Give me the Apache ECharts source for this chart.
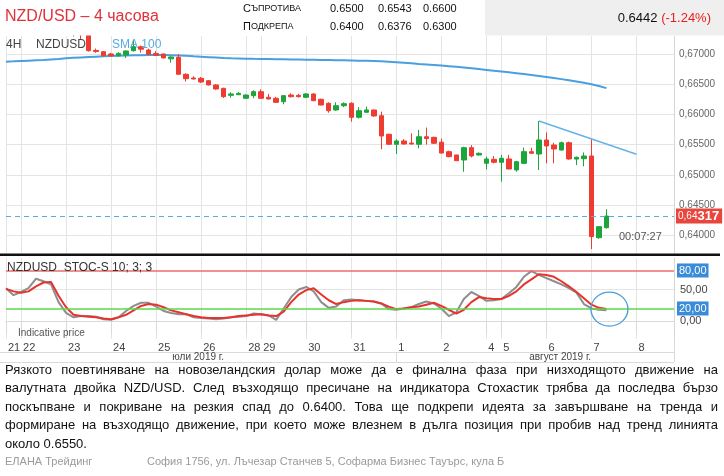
<!DOCTYPE html>
<html><head><meta charset="utf-8">
<script src="https://cdn.jsdelivr.net/npm/echarts@6/dist/echarts.min.js"></script>
<style>html,body{margin:0;padding:0;background:#fff}#c{width:724px;height:476px}</style>
</head><body><div id="c"></div>
<script>
// ---------- DATA ----------
const dayLabels = ['21','22','23','24','25','26','28','29','30','31','1','2','4','5','6','7','8'];
const barsPerDay = [2,6,6,6,6,6,2,6,6,6,6,6,2,6,6,6,6];
const monthLabels = ['юли 2019 г.', 'август 2019 г.'];
const monthFirstDay = [0, 10];

// candles: [open, close, low, high]
const candles = [
 [0.6748,0.6744,0.6741,0.6751],[0.6744,0.6740,0.6737,0.6747],[0.6740,0.6743,0.6738,0.6746],
 [0.6743,0.6750,0.6741,0.6753],[0.6750,0.6747,0.6744,0.6754],[0.6747,0.6745,0.6742,0.6750],
 [0.6745,0.6738,0.6735,0.6747],[0.6738,0.6735,0.6732,0.6740],[0.6735,0.6737,0.6733,0.6739],
 [0.6737,0.6733,0.6729,0.6739],[0.6735,0.6732,0.6724,0.6737],[0.6732,0.67055,0.6704,0.6735],
 [0.6706,0.6704,0.6702,0.6709],[0.67038,0.66972,0.6696,0.6705],[0.6700,0.6697,0.6696,0.6702],
 [0.6697,0.6701,0.6696,0.6703],[0.66983,0.6705,0.66934,0.6706],[0.67055,0.67121,0.6704,0.67232],
 [0.6712,0.6708,0.67022,0.6714],[0.67066,0.66995,0.6698,0.6709],[0.6701,0.6698,0.6697,0.6705],
 [0.6700,0.66934,0.6693,0.6701],[0.6692,0.6695,0.66855,0.6696],[0.66945,0.66664,0.6666,0.6700],
 [0.66664,0.66591,0.66545,0.6668],[0.66603,0.66586,0.6658,0.6663],[0.66598,0.66536,0.6652,0.6662],
 [0.66558,0.66487,0.6648,0.6657],[0.66487,0.6642,0.6641,0.6650],[0.66432,0.66293,0.66272,0.6644],
 [0.66316,0.66338,0.66277,0.66366],[0.66326,0.66349,0.6632,0.6637],[0.66267,0.66321,0.6626,0.6633],
 [0.6631,0.66376,0.6627,0.6640],[0.66376,0.66266,0.6626,0.66415],[0.66283,0.66255,0.6625,0.6634],
 [0.66267,0.662,0.6619,0.6629],[0.6621,0.6631,0.66167,0.6632],[0.66321,0.66293,0.6628,0.6635],
 [0.66315,0.66293,0.6628,0.6634],[0.66283,0.66338,0.6627,0.6635],[0.66338,0.66227,0.6622,0.6635],
 [0.6625,0.66155,0.6615,0.6626],[0.66184,0.66061,0.66028,0.6620],[0.66073,0.66144,0.6606,0.6620],
 [0.66144,0.66177,0.6612,0.6620],[0.66184,0.65952,0.6588,0.6620],[0.65952,0.66061,0.6593,0.6612],
 [0.66035,0.66073,0.6603,0.6613],[0.66073,0.65974,0.6596,0.6608],[0.65978,0.65642,0.65422,0.66045],
 [0.65671,0.65505,0.6550,0.6568],[0.65505,0.6556,0.65344,0.6559],[0.6556,0.6551,0.6550,0.6559],
 [0.65525,0.6551,0.6550,0.65687],[0.65505,0.6563,0.65439,0.6574],[0.6563,0.6560,0.6550,0.65782],
 [0.6562,0.65522,0.6551,0.6563],[0.6554,0.6536,0.6535,0.6560],[0.65383,0.653,0.6529,0.6540],
 [0.65328,0.65233,0.6523,0.6533],[0.65245,0.65449,0.65051,0.65465],[0.65449,0.65311,0.65288,0.6549],
 [0.65328,0.65356,0.6532,0.6537],[0.65191,0.65262,0.6509,0.6530],[0.65256,0.65207,0.6519,0.6531],
 [0.65207,0.65273,0.64886,0.6533],[0.65262,0.65096,0.6509,0.6533],[0.6508,0.65217,0.6505,0.6523],
 [0.6519,0.65383,0.6518,0.6545],[0.65383,0.65356,0.6535,0.6545],[0.65344,0.65576,0.6508,0.65891],
 [0.65576,0.65477,0.6519,0.6570],[0.65493,0.65427,0.6519,0.6553],[0.6541,0.65531,0.6540,0.6555],
 [0.65531,0.65262,0.6525,0.6555],[0.6526,0.6529,0.6516,0.6530],[0.65267,0.65311,0.6514,0.6537],
 [0.65311,0.63976,0.63771,0.65588],[0.63959,0.64141,0.6394,0.6415],[0.64124,0.64317,0.6411,0.64429]
];

const sma100 = [
 0.66873,0.66878,0.66884,0.66890,0.66896,0.66902,0.66910,0.66918,0.66928,0.66936,
 0.66943,0.66950,0.66956,0.66962,0.66967,0.66971,0.66975,0.66978,0.66981,0.66983,
 0.66983,0.66982,0.66980,0.66976,0.66970,0.66962,0.66955,0.66948,0.66941,0.66934,
 0.66929,0.66926,0.66923,0.66920,0.66918,0.66916,0.66914,0.66912,0.66910,0.66908,
 0.66906,0.66904,0.66902,0.66900,0.66898,0.66896,0.66893,0.66890,0.66888,0.66884,
 0.66879,0.66872,0.66864,0.66855,0.66845,0.66835,0.66826,0.66817,0.66808,0.66799,
 0.66788,0.66776,0.66763,0.66750,0.66737,0.66724,0.66711,0.66697,0.66683,0.66668,
 0.66652,0.66636,0.66619,0.66602,0.66584,0.66565,0.66546,0.66523,0.66499,0.66470,0.66435
];

const stochK = [
 52,41,46,52,67,63,58,30,13,6, 8,8,7,3,2,6,16,24,29,29,
 23,16,13,11,11,6,5,4,3,4, 6,7,8,12,11,9,2,20,38,50,
 54,47,30,21,23,33,34,33,32,31, 28,19,18,20,22,27,31,28,20,8,
 14,35,46,40,32,33,35,44,54,70, 79,73,68,63,58,52,45,27,20,18,17
];
const stochD = [
 51,47,45,47,55,61,62,40,22,10, 8,7,6,4,3,6,10,17,24,27,
 26,22,17,14,11,8,6,5,5,5, 6,8,9,10,11,9,8,15,30,42,
 49,52,42,33,27,30,32,33,32,31, 28,23,19,20,22,23,26,29,24,18,
 12,18,30,38,36,35,35,40,47,58, 66,74,73,70,63,55,46,36,26,21,19
];

const trendLine = [[71, 0.65891], [84, 0.6534]];
const lastPrice = 0.64317;
const priceTicks = [0.640, 0.645, 0.650, 0.655, 0.660, 0.665, 0.670];
const stochTicks = [0, 50];
const stochLevels = [80, 20];

const resistance = ['0.6500', '0.6543', '0.6600'];
const support = ['0.6400', '0.6376', '0.6300'];
const quote = '0.6442';
const change = '(-1.24%)';

const paragraph = [
 'Рязкото поевтиняване на новозеландския долар може да е финална фаза при низходящото движение на',
 'валутната двойка NZD/USD. След възходящо пресичане на индикатора Стохастик  трябва да последва бързо',
 'поскъпване и покриване на резкия спад до 0.6400. Това ще подкрепи идеята за завършване на тренда и',
 'формиране на възходящо движение, при което може влезнем в дълга позиция при пробив над тренд линията',
 'около 0.6550.'
];

// ---------- BUILD ----------
const categories = [];
const dayStart = {};
dayLabels.forEach((d, k) => {
  for (let j = 0; j < barsPerDay[k]; j++) {
    if (j === 0) dayStart[categories.length] = k;
    categories.push(d + '-' + j);
  }
});
const isDayStart = (i) => dayStart[i] !== undefined;
const fmt = (v, d) => Number(v).toFixed(d).replace('.', ',');

const FONT = '"Liberation Sans", Arial, sans-serif';
const chart = echarts.init(document.getElementById('c'), null, {renderer: 'canvas'});

const option = {
  animation: false,
  backgroundColor: '#ffffff',
  grid: [
    {left: 6, right: 50, top: 36, height: 217, outerBoundsMode: 'none', containLabel: false},
    {left: 6, right: 50, top: 258, height: 81, outerBoundsMode: 'none', containLabel: false}
  ],
  xAxis: [
    {type: 'category', gridIndex: 0, data: categories, boundaryGap: false,
     axisLine: {show: false}, axisTick: {show: false}, axisLabel: {show: false},
     splitLine: {show: true, interval: (i) => isDayStart(i), lineStyle: {color: '#e4e4e4', width: 1}}},
    {type: 'category', gridIndex: 1, data: categories, boundaryGap: false,
     axisLine: {show: true, lineStyle: {color: '#dadada'}},
     axisTick: {show: true, interval: (i) => isDayStart(i), length: 13, inside: false, lineStyle: {color: '#dadada'}},
     axisLabel: {show: true, interval: (i) => isDayStart(i), formatter: (v) => v.split('-')[0],
       align: 'left', margin: 3, padding: [0, 0, 0, 2], fontSize: 11, color: '#444', fontFamily: FONT},
     splitLine: {show: true, interval: (i) => isDayStart(i), lineStyle: {color: '#e4e4e4', width: 1}}}
  ],
  yAxis: [
    {type: 'value', gridIndex: 0, position: 'right', min: 0.63705, max: 0.67298, scale: true,
     axisLine: {show: true, lineStyle: {color: '#d6d6d6'}},
     axisTick: {show: false, customValues: priceTicks},
     axisLabel: {customValues: priceTicks, formatter: (v) => fmt(v, 5), fontSize: 10, color: '#666', margin: 5, fontFamily: FONT},
     splitLine: {show: true, lineStyle: {color: '#e4e4e4'}}},
    {type: 'value', gridIndex: 1, position: 'right', min: -28.2, max: 99.7,
     axisLine: {show: true, lineStyle: {color: '#d6d6d6'}},
     axisTick: {show: false, customValues: stochTicks},
     axisLabel: {customValues: stochTicks, formatter: (v) => fmt(v, 2), fontSize: 11, color: '#444', margin: 6, fontFamily: FONT},
     splitLine: {show: true, lineStyle: {color: '#e4e4e4'}}}
  ],
  series: [
    {type: 'line', xAxisIndex: 0, yAxisIndex: 0, data: sma100, symbol: 'none', z: 2,
     lineStyle: {color: '#4a9fe0', width: 2}},
    {type: 'candlestick', xAxisIndex: 0, yAxisIndex: 0, data: candles, barWidth: 5, clip: true, z: 3,
     itemStyle: {color: '#1ba53a', color0: '#ee3c33', borderColor: '#1ba53a', borderColor0: '#ee3c33', borderWidth: 1},
     markLine: {silent: true, symbol: 'none', animation: false, precision: 5,
       data: [{yAxis: lastPrice}],
       lineStyle: {color: '#55aae8', type: [5, 4], width: 1},
       label: {show: true, position: 'end', distance: 2,
         formatter: (p) => { const s = fmt(p.value, 5); return '{a|' + s.slice(0, 4) + '}{b|' + s.slice(4) + '}'; },
         backgroundColor: '#e8453c', padding: [1, 3, 1, 2],
         rich: {a: {fontSize: 10, color: '#fff', fontFamily: FONT}, b: {fontSize: 13, fontWeight: 'bold', color: '#fff', fontFamily: FONT}}}}},
    {type: 'line', xAxisIndex: 0, yAxisIndex: 0, data: trendLine, symbol: 'none', z: 4,
     lineStyle: {color: '#66b2e8', width: 1.5}},
    {type: 'line', xAxisIndex: 1, yAxisIndex: 1, data: stochK, symbol: 'none', z: 3,
     lineStyle: {color: '#8e8e8e', width: 2},
     markPoint: {silent: true, symbol: 'circle', symbolSize: [37, 34], symbolOffset: [3, 0],
       data: [{coord: [80, 19]}],
       itemStyle: {color: 'rgba(0,0,0,0)', borderColor: '#4a9fd8', borderWidth: 1.3},
       label: {show: false}}},
    {type: 'line', xAxisIndex: 1, yAxisIndex: 1, data: stochD, symbol: 'none', z: 4,
     lineStyle: {color: '#e8322c', width: 2},
     markLine: {silent: true, symbol: 'none', animation: false, precision: 2,
       data: stochLevels.map((lv, k) => ({yAxis: lv, lineStyle: {color: k === 0 ? '#ee6b6b' : '#5ada4a', width: 1.5, type: 'solid'}})),
       label: {show: true, position: 'end', distance: 3, formatter: (p) => fmt(p.value, 2),
         backgroundColor: '#3a8bd8', color: '#fff', padding: [2, 2, 1, 2], fontSize: 11, fontFamily: FONT}}}
  ]
};
chart.setOption(option);

// ---------- TEXT / DECOR ----------
const g = [];
// mask above the price pane (the price pane is cut at its top edge)
g.push({type: 'rect', shape: {x: 0, y: 0, width: 485, height: 35.5}, style: {fill: '#ffffff'}, z: 50});
g.push({type: 'rect', shape: {x: 485, y: 0, width: 239, height: 35.5}, style: {fill: '#efefef'}, z: 51});
g.push({type: 'text', x: 5, y: 17, style: {text: 'NZD/USD – 4 часова', font: '16px ' + FONT, fill: '#e0323a', verticalAlign: 'middle'}});
const rowY = [9, 27];
const rowNames = [['С', 'ЪПРОТИВА'], ['П', 'ОДКРЕПА']];
const rowVals = [resistance, support];
const valX = [330, 378, 423];
rowY.forEach((y, r) => {
  g.push({type: 'text', x: 243, y, style: {text: '{a|' + rowNames[r][0] + '}{b|' + rowNames[r][1] + '}', verticalAlign: 'middle',
    rich: {a: {fontSize: 11, fontFamily: FONT, fill: '#111'}, b: {fontSize: 9, fontFamily: FONT, fill: '#111'}}}});
  rowVals[r].forEach((v, k) => g.push({type: 'text', x: valX[k], y, style: {text: v, font: '11px ' + FONT, fill: '#111', verticalAlign: 'middle'}}));
});
g.push({type: 'text', x: 711, y: 18, style: {text: '{a|' + quote + ' }{b|' + change + '}', align: 'right', verticalAlign: 'middle',
  rich: {a: {fontSize: 13, fontFamily: FONT, fill: '#111'}, b: {fontSize: 13, fontFamily: FONT, fill: '#e8201a'}}}});
g.push({type: 'text', x: 6, y: 45, style: {text: '4H', font: '12px ' + FONT, fill: '#444', verticalAlign: 'middle'}});
g.push({type: 'text', x: 36, y: 45, style: {text: 'NZDUSD', font: '12px ' + FONT, fill: '#444', verticalAlign: 'middle'}});
g.push({type: 'text', x: 112, y: 45, style: {text: 'SMA 100', font: '12px ' + FONT, fill: '#5aaae2', verticalAlign: 'middle'}});
g.push({type: 'text', x: 619, y: 237, style: {text: '00:07:27', font: '11px ' + FONT, fill: '#555', verticalAlign: 'middle'}});
g.push({type: 'rect', shape: {x: 0, y: 253.5, width: 720, height: 2.6}, style: {fill: '#111'}});
g.push({type: 'text', x: 7, y: 268, style: {text: 'NZDUSD  STOC-S 10; 3; 3', font: '12px ' + FONT, fill: '#333', verticalAlign: 'middle'}});
g.push({type: 'text', x: 18, y: 333, style: {text: 'Indicative price', font: '10px ' + FONT, fill: '#555', verticalAlign: 'middle'}});
// date/month rows
g.push({type: 'line', shape: {x1: 0, y1: 352.5, x2: 674, y2: 352.5}, style: {stroke: '#dadada', lineWidth: 1}});
g.push({type: 'line', shape: {x1: 0, y1: 362.5, x2: 674, y2: 362.5}, style: {stroke: '#dadada', lineWidth: 1}});
g.push({type: 'line', shape: {x1: 674.5, y1: 339, x2: 674.5, y2: 362}, style: {stroke: '#dadada', lineWidth: 1}});
let dayIdx = 0; const monthStartIdx = [];
dayLabels.forEach((d, k) => { if (monthFirstDay.includes(k)) monthStartIdx.push(dayIdx); dayIdx += barsPerDay[k]; });
const mx = monthStartIdx.map(i => chart.convertToPixel({xAxisIndex: 1}, i));
mx.forEach((x, k) => {
  if (k > 0) g.push({type: 'line', shape: {x1: Math.round(x) + 0.5, y1: 352, x2: Math.round(x) + 0.5, y2: 362}, style: {stroke: '#dadada', lineWidth: 1}});
  const left = k === 0 ? 0 : x;
  const right = k + 1 < mx.length ? mx[k + 1] : 724;
  g.push({type: 'text', x: (left + right) / 2, y: 357.5, style: {text: monthLabels[k], font: '10px ' + FONT, fill: '#444', align: 'center', verticalAlign: 'middle'}});
});
// paragraph (justified)
const PFONT = '13px ' + FONT;
const ctx = document.createElement('canvas').getContext('2d');
ctx.font = PFONT;
paragraph.forEach((line, li) => {
  const y = 370 + li * 18.5;
  if (li < paragraph.length - 1) {
    const words = line.split(/\s+/);
    const widths = words.map(w => ctx.measureText(w).width);
    const total = widths.reduce((a, b) => a + b, 0);
    const gap = (713 - total) / (words.length - 1);
    let x = 5;
    words.forEach((w, k) => {
      g.push({type: 'text', x, y, style: {text: w, font: PFONT, fill: '#111', verticalAlign: 'middle'}});
      x += widths[k] + gap;
    });
  } else {
    g.push({type: 'text', x: 5, y, style: {text: line, font: PFONT, fill: '#111', verticalAlign: 'middle'}});
  }
});
g.push({type: 'text', x: 5, y: 462, style: {text: 'ЕЛАНА Трейдинг', font: '11px ' + FONT, fill: '#9a9a9a', verticalAlign: 'middle'}});
g.push({type: 'text', x: 147, y: 462, style: {text: 'София 1756, ул. Лъчезар Станчев 5, Софарма Бизнес Тауърс, кула Б', font: '11px ' + FONT, fill: '#9a9a9a', verticalAlign: 'middle'}});
g.forEach(el => { if (el.z === undefined) el.z = 60; });

chart.setOption({graphic: {elements: g}});
</script></body></html>
